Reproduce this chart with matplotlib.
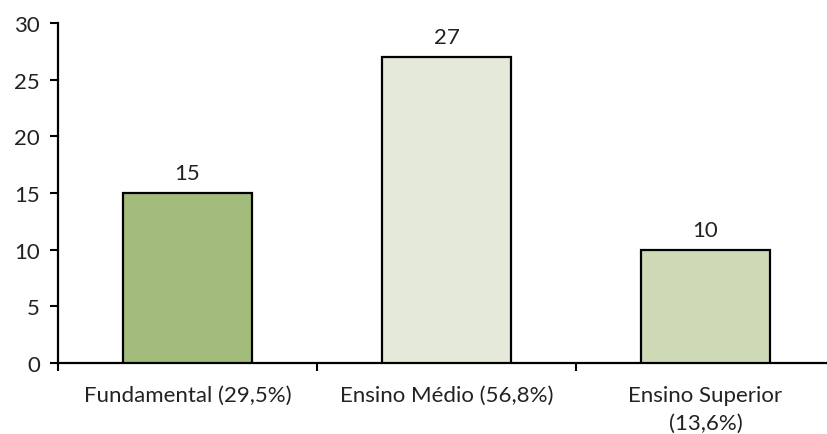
import matplotlib
matplotlib.use("Agg")
import matplotlib.pyplot as plt
import numpy as np

categories = ["Fundamental (29,5%)", "Ensino Médio (56,8%)", "Ensino Superior\n(13,6%)"]
values = [15, 27, 10]
bar_colors = ["#a3bc7b", "#e5e9d9", "#cedab6"]
y_ticks = [0, 5, 10, 15, 20, 25, 30]

plt.rcParams["font.family"] = ["Lato", "DejaVu Sans"]
FS = 16

fig = plt.figure(figsize=(8.27, 4.35), dpi=100)
ax = fig.add_axes([58 / 827, 1 - 364 / 435, 777 / 827, 340 / 435])

x = np.arange(len(categories))
ax.bar(x, values, width=0.5, color=bar_colors, edgecolor="black", linewidth=1.6, zorder=3)

for xi, v in zip(x, values):
    ax.text(xi, v + 0.85, str(v), ha="center", va="bottom", fontsize=FS, color="#222222")

ax.set_xlim(-0.5, 2.5)
ax.set_ylim(0, 30)
ax.set_yticks(y_ticks)
ax.set_yticklabels([str(t) for t in y_ticks], fontsize=FS, color="#222222")

# ticks on category boundaries, labels centered
ax.set_xticks([-0.5, 0.5, 1.5, 2.5])
ax.set_xticklabels([])
ax.set_xticks(x, minor=True)
ax.set_xticklabels(categories, minor=True, fontsize=FS, linespacing=1.45, color="#222222")
ax.tick_params(axis="x", which="minor", length=0, pad=16)
ax.tick_params(axis="x", which="major", length=6, width=1.5, direction="out")
ax.tick_params(axis="y", length=6, width=1.5, direction="out", pad=7)

for s in ["top", "right"]:
    ax.spines[s].set_visible(False)
for s in ["left", "bottom"]:
    ax.spines[s].set_linewidth(1.6)

fig.savefig("out.png", dpi=100, facecolor="white")
